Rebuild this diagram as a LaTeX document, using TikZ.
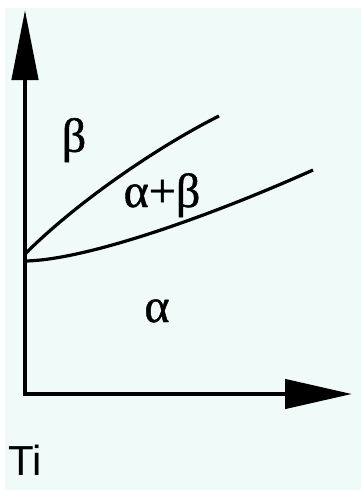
\documentclass[tikz,border=0pt]{standalone}
\usepackage{fontspec}
\setmainfont{Liberation Serif}
\setsansfont{Liberation Sans}
\newfontfamily\phasefont[FakeBold=1]{Liberation Serif}
\usetikzlibrary{arrows.meta}

\definecolor{bgcyan}{RGB}{239,250,249}

\begin{document}
\begin{tikzpicture}[
		x=1pt, y=-1pt,
		% --- styles ---
		axis/.style={
			draw, line width=4.5pt, line join=miter,
			{Triangle[length=70pt, width=26pt]}-{Triangle[length=67pt, width=29pt]}
		},
		curve/.style={
			draw, line width=3.2pt
		},
		phase/.style={
			font=\phasefont\fontsize{48}{48}\selectfont, inner sep=0pt
		},
		element/.style={
			font=\sffamily\fontsize{42}{42}\selectfont, inner sep=0pt
		}
	]
	
	% ==========================================
	% background
	% ==========================================
	\useasboundingbox (0,0) rectangle (361,490);
	\fill[white] (0,0) rectangle (361,490);
	\fill[bgcyan] (5,8) rectangle (361,490);
	
	% ==========================================
	% axes
	% ==========================================
	\coordinate (origin) at (25,394);
	\coordinate (ytip) at (25,10);
	\coordinate (xtip) at (352,394);
	\draw [axis] (ytip) -- (origin) -- (xtip);
	
	% ==========================================
	% phase boundaries
	% ==========================================
	\coordinate (upper_start) at (25,254);
	\coordinate (upper_end) at (219,116);
	\coordinate (lower_start) at (25,261);
	\coordinate (lower_end) at (313,170);
	
	\draw [curve] (upper_start) .. controls (79,200) and (161,145) .. (upper_end);
	\draw [curve] (lower_start) .. controls (90,260) and (222,211) .. (lower_end);
	
	% ==========================================
	% labels
	% ==========================================
	\node [phase] (beta) at (74,140) {β};
	\node [phase, anchor=base] (alphabeta) at (162,207) {α+β};
	\node [phase, anchor=base] (alpha) at (157,322) {α};
	\node [element, anchor=base west] (ti) at (8,475) {Ti};
\end{tikzpicture}
\end{document}
